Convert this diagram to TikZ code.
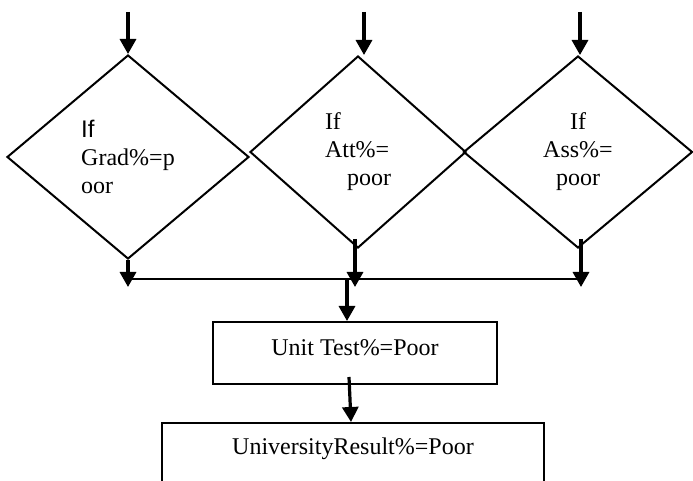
\documentclass[tikz,border=0pt]{standalone}
\usepackage{fontspec}
\setmainfont{Liberation Serif}
\newfontfamily\sanf{Liberation Sans}
\usetikzlibrary{shapes.geometric, arrows.meta, calc}

\tikzset{
    cond/.style={diamond, draw, line width=1pt, inner sep=0pt, align=left},
    procbox/.style={rectangle, draw, line width=1pt, inner sep=0pt},
    arr/.style={-{Triangle[width=8pt,length=7.5pt]}, line width=1.6pt}
}

\begin{document}
\begin{tikzpicture}[x=0.5pt, y=-0.5pt, font=\fontsize{12}{14}\selectfont]
    \clip (0,0) rectangle (693,481);

    % Nodes
    \node (grad) [cond, minimum width=121pt, minimum height=102pt] at (128,157) {{\sanf If}\\Grad\%=p\\oor};
    \node (att) [cond, minimum width=108pt, minimum height=96pt] at (358,152) {If\\Att\%=\hspace*{12pt}\\\hspace*{11pt}poor};
    \node (ass) [cond, align=center, minimum width=114.5pt, minimum height=96pt] at (578,152) {If\\Ass\%=\\poor};
    \node (unit) [procbox, minimum width=142pt, minimum height=31pt, text height=8.5pt, text depth=6pt] at (355,353) {Unit Test\%=Poor};
    \node (univ) [procbox, anchor=north, minimum width=191pt, text height=16pt, text depth=26pt] at (353,422) {UniversityResult\%=Poor};

    % Coordinates
    \coordinate (in1) at (128,12);
    \coordinate (in2) at (364,12);
    \coordinate (in3) at (580,12);
    \coordinate (busl) at (128,279);
    \coordinate (busr) at (581,279);
    \coordinate (join) at (347,279);

    % Edges
    \draw[arr] (in1) -- (grad.north);
    \draw[arr] (in2) -- (in2 |- att.north);
    \draw[arr] (in3) -- (in3 |- ass.north);
    \draw[line width=1pt] (busl) -- (busr);
    \draw[arr] (grad.south) -- ([yshift=-4pt]grad.south |- busl);
    \draw[arr] ([xshift=-1.5pt,yshift=5pt]att.south) -- ([xshift=-1.5pt,yshift=-4pt]att.south |- busl);
    \draw[arr] ([xshift=1.5pt,yshift=5pt]ass.south) -- ([yshift=-4pt]busr);
    \draw[arr] (join) -- (join |- unit.north);
    \draw[arr] ([xshift=-3pt,yshift=4pt]unit.south) -- ([xshift=-1pt]univ.north);
\end{tikzpicture}
\end{document}
